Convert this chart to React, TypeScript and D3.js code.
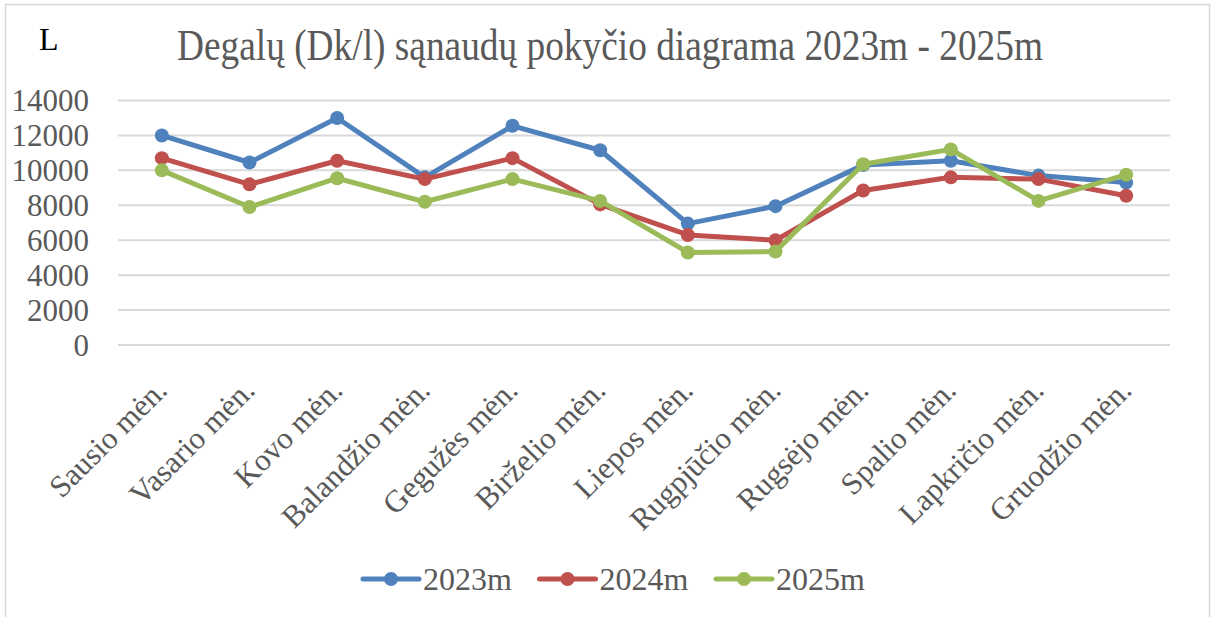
import React, { useEffect } from "react";
import { scaleBand, scaleLinear, line } from "d3";

const months = [
  "Sausio mėn.",
  "Vasario mėn.",
  "Kovo mėn.",
  "Balandžio mėn.",
  "Gegužės mėn.",
  "Birželio mėn.",
  "Liepos mėn.",
  "Rugpjūčio mėn.",
  "Rugsėjo mėn.",
  "Spalio mėn.",
  "Lapkričio mėn.",
  "Gruodžio mėn."
];
const values2023 = [12000, 10450, 13000, 9600, 12550, 11150, 6950, 7950, 10300, 10550, 9700, 9300];
const values2024 = [10700, 9200, 10550, 9500, 10700, 8050, 6300, 6000, 8850, 9600, 9500, 8550];
const values2025 = [10000, 7900, 9550, 8200, 9500, 8250, 5300, 5350, 10350, 11200, 8250, 9750];
const seriesNames = ["2023m", "2024m", "2025m"];
const seriesColors = ["#4F81BD", "#C0504D", "#9BBB59"];
const yTicks = [0, 2000, 4000, 6000, 8000, 10000, 12000, 14000];

const title = "Degalų (Dk/l) sąnaudų pokyčio diagrama 2023m - 2025m";
const font = "'Liberation Serif', 'Times New Roman', serif";
const textColor = "#595959";

export default function App() {
  useEffect(() => {
    document.body.style.margin = "0";
  }, []);

  const x = scaleBand().domain(months).range([118, 1170]);
  const y = scaleLinear().domain([0, 14000]).range([345, 100.5]);
  const cx = (m: string) => (x(m) as number) + x.bandwidth() / 2;

  const series = [values2023, values2024, values2025];
  const path = line<number>()
    .x((d, i) => cx(months[i]))
    .y(d => y(d));

  return (
    <svg width={1213} height={617} style={{ display: "block", fontFamily: font }}>
      <rect x={0} y={0} width={1213} height={617} fill="#fff" />
      <rect x={5.5} y={4.5} width={1204} height={620} fill="none" stroke="#d9d9d9" strokeWidth={1.5} />

      {/* unit label + title */}
      <text x={39} y={50} fontSize={32} fill="#000">L</text>
      <text
        x={177}
        y={60}
        fontSize={44}
        fill={textColor}
        textLength={866}
        lengthAdjust="spacingAndGlyphs"
      >
        {title}
      </text>

      {/* grid + y ticks */}
      {yTicks.map(t => (
        <g key={t}>
          <line x1={118} x2={1170} y1={y(t)} y2={y(t)} stroke="#d9d9d9" strokeWidth={2} />
          <text x={89} y={y(t)} dy="0.35em" textAnchor="end" fontSize={31} fill={textColor}>
            {t}
          </text>
        </g>
      ))}

      {/* x labels */}
      {months.map(m => (
        <text
          key={m}
          transform={`translate(${cx(m) + 7},${392}) rotate(-45)`}
          textAnchor="end"
          fontSize={31}
          fill={textColor}
        >
          {m}
        </text>
      ))}

      {/* series */}
      {series.map((vals, si) => (
        <g key={si}>
          <path
            d={path(vals) || ""}
            fill="none"
            stroke={seriesColors[si]}
            strokeWidth={5}
            strokeLinejoin="round"
            strokeLinecap="round"
          />
          {vals.map((v, i) => (
            <circle key={i} cx={cx(months[i])} cy={y(v)} r={7} fill={seriesColors[si]} />
          ))}
        </g>
      ))}

      {/* legend */}
      {seriesNames.map((n, i) => {
        const lx = 363 + i * 176.5;
        return (
          <g key={n}>
            <line x1={lx} x2={lx + 56} y1={579} y2={579} stroke={seriesColors[i]} strokeWidth={5} strokeLinecap="round" />
            <circle cx={lx + 28} cy={579} r={7} fill={seriesColors[i]} />
            <text x={lx + 60} y={579} dy="0.35em" fontSize={32} fill={textColor}>
              {n}
            </text>
          </g>
        );
      })}
    </svg>
  );
}
